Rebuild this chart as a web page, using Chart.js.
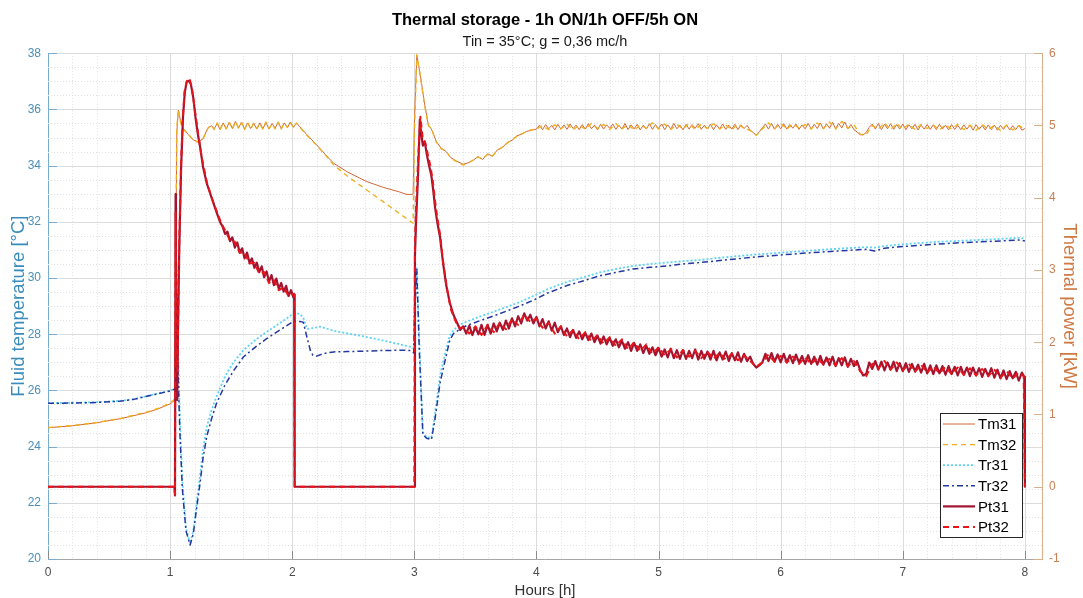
<!DOCTYPE html>
<html><head><meta charset="utf-8">
<script src="https://cdn.jsdelivr.net/npm/chart.js@4.4.1/dist/chart.umd.min.js"></script>
<style>html,body{margin:0;padding:0;background:#fff;}canvas{display:block;}</style>
</head><body>
<canvas id="c" width="1083" height="598"></canvas>
<script>
// ---------- DATA (hours / values) ----------
const xTicks = [0,1,2,3,4,5,6,7,8];
const yTicks = [20,22,24,26,28,30,32,34,36,38];
const y1Ticks = [-1,0,1,2,3,4,5,6];

const tmHeadHours = [0,0.2,0.4,0.6,0.8,0.9,1,1.04,1.046,1.055,1.068,1.085,1.108,1.15,1.19,1.23,1.27,1.31,1.34,
1.36,1.385,1.41,1.435,1.46,1.485,1.51,1.535,1.56,1.585,1.61,1.635,1.66,1.685,1.71,1.735,1.76,1.785,1.81,1.835,1.86,1.885,1.91,1.935,1.96,1.985,2.01,2.035,2.06,
2.12,2.2,2.27,2.34,2.45,2.61,2.75,2.88,2.94,2.99,3,3.02,3.05,3.08,3.115,3.14,3.18,3.22,3.26,3.3,3.35,3.4,3.44,3.48,3.52,3.56,3.6,3.64,3.68,3.72,3.76,3.8,3.84,3.88,3.92,3.96];

const tm31TailHours = [4,4.025,4.05,4.075,4.1,4.125,4.15,4.175,4.2,4.225,
4.25,4.275,4.3,4.325,4.35,4.375,4.4,4.425,4.45,4.475,
4.5,4.525,4.55,4.575,4.6,4.625,4.65,4.675,4.7,4.725,
4.75,4.775,4.8,4.825,4.85,4.875,4.9,4.925,4.95,4.975,
5,5.025,5.05,5.075,5.1,5.125,5.15,5.175,5.2,5.225,
5.25,5.275,5.3,5.325,5.35,5.375,5.4,5.425,5.45,5.475,
5.5,5.525,5.55,5.575,5.6,5.625,5.65,5.675,5.7,5.725,
5.75,5.775,5.8,5.825,5.85,5.875,5.9,5.925,5.95,5.975,
6,6.025,6.05,6.075,6.1,6.125,6.15,6.175,6.2,6.225,
6.25,6.275,6.3,6.325,6.35,6.375,6.4,6.425,6.45,6.475,
6.5,6.525,6.55,6.575,6.6,6.625,6.65,6.675,6.7,6.725,
6.75,6.775,6.8,6.825,6.85,6.875,6.9,6.925,6.95,6.975,
7,7.025,7.05,7.075,7.1,7.125,7.15,7.175,7.2,7.225,
7.25,7.275,7.3,7.325,7.35,7.375,7.4,7.425,7.45,7.475,
7.5,7.525,7.55,7.575,7.6,7.625,7.65,7.675,7.7,7.725,
7.75,7.775,7.8,7.825,7.85,7.875,7.9,7.925,7.95,7.975,8];

const tm32TailHours = [4,4.05,4.1,4.15,4.2,4.25,4.3,4.35,4.4,4.45,4.5,4.55,4.6,4.65,4.7,4.75,4.8,4.85,4.9,4.95,
5,5.05,5.1,5.15,5.2,5.25,5.3,5.35,5.4,5.45,5.5,5.55,5.6,5.65,5.7,5.75,5.8,5.85,5.9,5.95,
6,6.05,6.1,6.15,6.2,6.25,6.3,6.35,6.4,6.45,6.5,6.55,6.6,6.65,6.7,6.75,6.8,6.85,6.9,6.95,
7,7.05,7.1,7.15,7.2,7.25,7.3,7.35,7.4,7.45,7.5,7.55,7.6,7.65,7.7,7.75,7.8,7.85,7.9,7.95,8];

const tm31Temp = [24.67,24.74,24.85,25.0,25.2,25.34,25.52,25.66,30.5,35.2,35.97,35.6,35.32,35.1,34.91,34.85,34.95,35.35,35.42,
35.30,35.50,35.28,35.52,35.30,35.55,35.32,35.57,35.33,35.55,
35.30,35.52,35.32,35.50,35.30,35.52,35.32,35.53,35.30,35.50,
35.33,35.54,35.32,35.52,35.35,35.55,35.36,35.50,35.40,
35.1,34.74,34.4,34.08,33.78,33.43,33.22,33.06,32.97,32.98,
35.5,37.93,37.2,36.3,35.44,35.3,34.85,34.62,34.5,34.28,
34.15,34.05,34.1,34.18,34.32,34.22,34.42,34.33,34.56,34.64,
34.82,34.9,35.06,35.12,35.22,35.26,
35.30,35.44,35.28,35.46,35.31,35.43,35.27,35.47,35.30,35.45,
35.29,35.48,35.32,35.44,35.28,35.46,35.30,35.49,35.31,35.44,
35.27,35.47,35.30,35.45,35.33,35.48,35.29,35.44,35.30,35.50,
35.28,35.45,35.31,35.47,35.27,35.44,35.30,35.49,35.29,35.46,
35.32,35.48,35.28,35.45,35.30,35.50,35.31,35.44,35.27,35.47,
35.30,35.46,35.33,35.49,35.29,35.44,35.30,35.47,35.28,35.45,
35.31,35.48,35.29,35.44,35.30,35.47,35.28,35.45,35.32,35.43,
35.26,35.18,35.08,35.20,35.35,35.48,35.30,35.50,35.29,35.47,
35.31,35.49,35.30,35.46,35.33,35.48,35.29,35.45,35.31,35.50,
35.30,35.47,35.32,35.52,35.30,35.49,35.33,35.54,35.31,35.50,
35.34,35.55,35.31,35.46,35.28,35.20,35.10,35.09,35.18,35.36,
35.48,35.30,35.50,35.28,35.47,35.31,35.49,35.29,35.46,35.30,
35.48,35.28,35.45,35.31,35.47,35.27,35.44,35.30,35.46,35.29,
35.45,35.28,35.47,35.30,35.44,35.27,35.46,35.29,35.43,35.28,
35.45,35.30,35.44,35.26,35.46,35.29,35.43,35.27,35.45,35.28,
35.44,35.26,35.43,35.29,35.45,35.27,35.42,35.28,35.44,35.26,
35.32];

const tm32Temp = [24.68,24.75,24.86,25.01,25.22,25.36,25.55,25.70,31.0,35.4,36.0,35.55,35.28,35.12,34.9,34.83,34.97,35.33,35.44,
35.28,35.52,35.30,35.50,35.31,35.53,35.30,35.56,35.35,35.53,
35.28,35.54,35.30,35.51,35.32,35.50,35.30,35.55,35.32,35.48,
35.31,35.55,35.30,35.50,35.36,35.53,35.35,35.52,35.38,
35.08,34.72,34.38,34.02,33.63,33.13,32.7,32.29,32.1,31.95,
35.0,37.95,37.15,36.25,35.42,35.32,34.83,34.6,34.52,34.26,
34.13,34.02,34.08,34.2,34.3,34.25,34.4,34.35,34.54,34.66,
34.8,34.92,35.04,35.14,35.2,35.28,
35.30,35.42,35.28,35.45,35.30,35.48,35.27,35.44,35.30,35.50,
35.32,35.46,35.28,35.50,35.30,35.47,35.26,35.45,35.33,35.52,
35.30,35.48,35.29,35.46,35.31,35.50,35.28,35.47,35.32,35.49,
35.30,35.45,35.27,35.48,35.33,35.25,35.08,35.30,35.52,35.32,
35.50,35.30,35.48,35.34,35.46,35.30,35.52,35.31,35.55,35.30,
35.57,35.33,35.45,35.12,35.10,35.42,35.30,35.52,35.28,35.50,
35.30,35.48,35.28,35.46,35.32,35.44,35.27,35.45,35.30,35.47,
35.28,35.44,35.26,35.46,35.29,35.43,35.25,35.44,35.27,35.42,
35.30];

const trHours = [0,0.2,0.4,0.6,0.7,0.8,0.9,1,1.04,1.046,
1.05,1.06,1.08,1.1,1.13,1.164,1.19,1.22,1.246,1.27,
1.3,1.34,1.38,1.45,1.52,1.6,1.7,1.79,1.9,2.01,
2.06,2.09,2.12,2.15,2.17,2.2,2.23,2.28,2.34,2.45,
2.61,2.75,2.9,2.97,2.995,3,3.02,3.04,3.07,3.1,
3.14,3.17,3.21,3.24,3.29,3.32,3.38,3.43,3.55,3.7,
3.85,3.97,4.1,4.25,4.4,4.52,4.65,4.79,4.93,5.07,
5.2,5.34,5.5,5.75,6,6.25,6.5,6.7,6.77,6.85,
7,7.25,7.5,7.75,7.95,8];

const tr31Temp = [25.55,25.56,25.58,25.63,25.69,25.79,25.89,25.99,26.06,29.0,
30.8,28.5,25.0,22.8,21.1,20.55,21.0,22.1,23.0,23.9,
24.7,25.3,25.78,26.5,27.0,27.43,27.8,28.08,28.4,28.73,
28.73,28.6,28.19,28.2,28.22,28.24,28.27,28.2,28.12,28.03,
27.9,27.77,27.62,27.55,27.5,29.0,30.4,27.8,24.5,24.35,
24.3,25.2,26.5,27.1,27.95,28.15,28.35,28.45,28.65,28.88,
29.12,29.35,29.62,29.86,30.04,30.2,30.32,30.43,30.5,30.55,
30.6,30.64,30.72,30.82,30.9,30.98,31.05,31.1,31.08,31.14,
31.2,31.28,31.33,31.38,31.43,31.4];

const tr32Temp = [25.54,25.55,25.57,25.62,25.68,25.78,25.88,25.98,26.05,28.0,
30.7,27.4,24.5,22.5,21.0,20.5,20.9,21.9,22.72,23.6,
24.36,25.0,25.54,26.2,26.7,27.19,27.55,27.84,28.15,28.46,
28.45,28.43,27.9,27.4,27.25,27.22,27.27,27.33,27.37,27.38,
27.4,27.42,27.43,27.42,27.33,28.5,30.3,27.5,24.42,24.3,
24.25,25.0,26.25,26.84,27.78,28.02,28.2,28.31,28.5,28.73,
28.98,29.2,29.48,29.73,29.92,30.08,30.2,30.32,30.38,30.43,
30.5,30.55,30.62,30.73,30.82,30.9,30.97,31.02,30.96,31.06,
31.12,31.2,31.26,31.31,31.35,31.32];

const pt31Hours = [0,1.035,1.04,1.045,1.048,1.052,1.058,1.065,1.075,1.09,1.105,1.12,1.135,1.155,1.17,1.19,1.21,1.23,1.246,1.27,1.3,1.33,1.35,1.38,1.41,
1.43,1.45,1.47,1.49,1.51,1.53,1.55,1.57,1.59,1.61,1.63,1.65,1.67,1.69,1.71,1.73,1.75,1.77,1.79,1.81,1.83,1.85,1.87,1.89,1.91,1.93,1.95,1.97,1.99,2.01,
2.016,2.02,2.99,3,3.005,3.015,3.03,3.045,3.055,3.07,3.085,3.1,3.12,3.14,3.155,3.17,3.19,3.21,3.235,3.26,3.29,3.32,3.35,3.375,
3.4,3.425,3.45,3.475,3.5,3.525,3.55,3.575,
3.6,3.625,3.65,3.675,3.7,3.725,3.75,3.775,
3.8,3.825,3.85,3.875,3.9,3.925,3.95,3.975,
4,4.025,4.05,4.075,4.1,4.125,4.15,4.175,
4.2,4.225,4.25,4.275,4.3,4.325,4.35,4.375,
4.4,4.425,4.45,4.475,4.5,4.525,4.55,4.575,
4.6,4.625,4.65,4.675,4.7,4.725,4.75,4.775,
4.8,4.825,4.85,4.875,4.9,4.925,4.95,4.975,
5,5.025,5.05,5.075,5.1,5.125,5.15,5.175,
5.2,5.225,5.25,5.275,5.3,5.325,5.35,5.375,
5.4,5.425,5.45,5.475,5.5,5.525,5.55,5.575,
5.6,5.625,5.65,5.675,5.7,5.725,5.75,5.775,
5.8,5.825,5.85,5.875,5.9,5.925,5.95,5.975,
6,6.025,6.05,6.075,6.1,6.125,6.15,6.175,
6.2,6.225,6.25,6.275,6.3,6.325,6.35,6.375,
6.4,6.425,6.45,6.475,6.5,6.525,6.55,6.575,
6.6,6.625,6.65,6.675,6.7,6.725,6.75,6.775,
6.8,6.825,6.85,6.875,6.9,6.925,6.95,6.975,
7,7.025,7.05,7.075,7.1,7.125,7.15,7.175,
7.2,7.225,7.25,7.275,7.3,7.325,7.35,7.375,
7.4,7.425,7.45,7.475,7.5,7.525,7.55,7.575,
7.6,7.625,7.65,7.675,7.7,7.725,7.75,7.775,
7.8,7.825,7.85,7.875,7.9,7.925,7.95,7.975,
7.995,8];

const pt31Power = [0,0,-0.12,4.05,1.5,2.6,1.2,2.2,3.3,4.4,5.1,5.45,5.6,5.62,5.57,5.38,5.08,4.85,4.7,4.42,4.2,4.05,3.95,3.8,3.66,
3.60,3.50,3.53,3.40,3.45,3.31,3.38,3.24,3.30,3.16,3.24,3.10,3.16,3.03,3.10,2.97,3.05,2.90,2.98,2.84,2.93,2.79,2.88,2.74,2.82,2.70,2.78,2.64,2.72,2.62,
2.66,0,0,0,3.2,3.7,4.3,5.08,4.9,4.72,4.78,4.62,4.45,4.3,4.1,3.86,3.64,3.46,3.1,2.8,2.55,2.38,2.27,2.17,
2.22,2.12,2.23,2.10,2.21,2.11,2.24,2.10,
2.24,2.12,2.26,2.15,2.27,2.17,2.30,2.19,
2.33,2.22,2.36,2.26,2.40,2.30,2.38,2.26,
2.35,2.22,2.32,2.19,2.29,2.16,2.27,2.14,
2.22,2.10,2.19,2.07,2.17,2.06,2.15,2.04,
2.13,2.03,2.12,2.00,2.09,1.98,2.08,1.97,
2.06,1.95,2.04,1.93,2.02,1.91,2.00,1.88,
1.99,1.88,1.97,1.85,1.95,1.84,1.93,1.82,
1.92,1.80,1.90,1.79,1.91,1.78,1.89,1.77,
1.89,1.77,1.88,1.78,1.90,1.76,1.88,1.77,
1.87,1.76,1.88,1.75,1.86,1.76,1.87,1.74,
1.85,1.75,1.86,1.73,1.84,1.74,1.80,1.70,
1.65,1.68,1.72,1.84,1.74,1.85,1.73,1.83,
1.72,1.84,1.72,1.82,1.71,1.83,1.72,1.81,
1.70,1.82,1.70,1.80,1.69,1.81,1.69,1.79,
1.68,1.80,1.67,1.78,1.68,1.79,1.66,1.77,
1.67,1.74,1.62,1.54,1.56,1.72,1.63,1.74,
1.62,1.73,1.61,1.72,1.62,1.73,1.60,1.71,
1.60,1.71,1.59,1.70,1.60,1.69,1.58,1.70,
1.57,1.68,1.56,1.68,1.57,1.67,1.55,1.67,
1.56,1.66,1.54,1.66,1.55,1.65,1.53,1.65,
1.54,1.64,1.52,1.63,1.53,1.64,1.51,1.62,
1.50,1.61,1.49,1.60,1.50,1.59,1.47,1.58,
1.52,0];

const pt32Hours = [0,1.035,1.04,1.045,1.05,1.06,1.075,1.09,1.105,1.12,
1.14,1.16,1.18,1.2,1.23,1.26,1.3,1.34,1.38,1.42,
1.45,1.49,1.53,1.57,1.61,1.65,1.69,1.73,1.77,1.81,1.85,1.89,1.93,1.97,2.01,
2.016,2.02,2.99,3,3.005,3.015,3.03,3.05,3.07,3.09,
3.11,3.13,3.15,3.17,3.19,3.21,3.24,3.27,3.3,3.34,3.37,
3.4,3.45,3.5,3.55,3.6,3.65,3.7,3.75,3.8,3.85,
3.9,3.95,4,4.05,4.1,4.15,4.2,4.25,4.3,4.35,
4.4,4.45,4.5,4.55,4.6,4.65,4.7,4.75,4.8,4.85,
4.9,4.95,5,5.05,5.1,5.15,5.2,5.25,5.3,5.35,
5.4,5.45,5.5,5.55,5.6,5.65,5.7,5.75,5.8,5.85,
5.9,5.95,6,6.05,6.1,6.15,6.2,6.25,6.3,6.35,
6.4,6.45,6.5,6.55,6.6,6.65,6.7,6.75,6.8,6.85,
6.9,6.95,7,7.05,7.1,7.15,7.2,7.25,7.3,7.35,
7.4,7.45,7.5,7.55,7.6,7.65,7.7,7.75,7.8,7.85,
7.9,7.95,7.99,8];

const pt32Power = [0,0,-0.10,3.8,1.8,1.6,3.4,4.5,5.15,5.5,
5.63,5.65,5.5,5.25,4.88,4.55,4.22,4.0,3.82,3.64,
3.55,3.41,3.39,3.24,3.24,3.09,3.10,2.95,2.97,2.82,2.86,2.72,2.76,2.64,2.67,
2.66,0,0,0,3.4,3.9,4.5,5.12,4.8,4.76,
4.6,4.45,4.25,3.95,3.7,3.5,3.05,2.72,2.45,2.28,2.2,
2.20,2.12,2.22,2.10,2.24,2.14,2.27,2.18,2.32,2.24,
2.38,2.28,2.33,2.20,2.27,2.12,2.22,2.08,2.17,2.04,
2.14,2.01,2.10,1.98,2.07,1.95,2.04,1.90,2.00,1.88,
1.97,1.84,1.93,1.82,1.90,1.79,1.89,1.80,1.88,1.78,
1.87,1.77,1.85,1.76,1.84,1.75,1.82,1.74,1.66,1.72,
1.83,1.73,1.81,1.72,1.80,1.70,1.79,1.70,1.78,1.69,
1.77,1.68,1.78,1.67,1.74,1.60,1.53,1.70,1.64,1.74,
1.62,1.72,1.61,1.70,1.59,1.69,1.58,1.67,1.57,1.66,
1.56,1.65,1.55,1.64,1.54,1.63,1.53,1.62,1.51,1.60,
1.50,1.58,1.53,0];

const tm31Hours = tmHeadHours.concat(tm31TailHours);
const tm32Hours = tmHeadHours.concat(tm32TailHours);

// ---------- STYLE ----------
const FAMILY = "'Liberation Sans', Arial, Helvetica, sans-serif";
const LEFT_COL = '#4a8fba', LEFT_AXIS = '#78add0', LEFT_TITLE = '#3a8cbc';
const RIGHT_COL = '#c98156', RIGHT_AXIS = '#d9b08c', RIGHT_TITLE = '#cf7a44';
const X_COL = '#4d4d4d', X_AXIS = '#a6a6a6';

function pts(hours, vals) { return hours.map((h, i) => ({x: h, y: vals[i]})); }

const gridPlugin = {
  id: 'matlabGrid',
  beforeDatasetsDraw(chart) {
    const {ctx, chartArea: a, scales} = chart;
    const x = scales.x, y = scales.y;
    ctx.save();
    ctx.lineWidth = 1;
    ctx.strokeStyle = '#e0e0e0';
    ctx.setLineDash([1, 2]);
    ctx.beginPath();
    for (let k = 1; k < 41; k++) {
      if (k % 5 === 0) continue;
      const px = Math.round(x.getPixelForValue(k * 0.2)) + 0.5;
      if (px >= a.right) break;
      ctx.moveTo(px, a.top); ctx.lineTo(px, a.bottom);
    }
    for (let k = 1; k < 36; k++) {
      if (k % 4 === 0) continue;
      const py = Math.round(y.getPixelForValue(20 + k * 0.5)) + 0.5;
      ctx.moveTo(a.left, py); ctx.lineTo(a.right, py);
    }
    ctx.stroke();
    ctx.setLineDash([]);
    ctx.strokeStyle = '#dcdcdc';
    ctx.beginPath();
    xTicks.forEach(v => { if (v === 0) return; const px = Math.round(x.getPixelForValue(v)) + 0.5; ctx.moveTo(px, a.top); ctx.lineTo(px, a.bottom); });
    yTicks.forEach(v => { if (v === 20) return; const py = Math.round(y.getPixelForValue(v)) + 0.5; ctx.moveTo(a.left, py); ctx.lineTo(a.right, py); });
    ctx.stroke();
    ctx.restore();
  }
};

const tickPlugin = {
  id: 'inwardTicks',
  afterDatasetsDraw(chart) {
    const {ctx, chartArea: a, scales} = chart;
    ctx.save();
    ctx.lineWidth = 1;
    ctx.strokeStyle = '#8c8c8c';
    ctx.beginPath();
    xTicks.forEach(v => { const px = Math.round(scales.x.getPixelForValue(v)) + 0.5; ctx.moveTo(px, a.bottom); ctx.lineTo(px, a.bottom - 8); });
    ctx.stroke();
    ctx.strokeStyle = LEFT_AXIS;
    ctx.beginPath();
    yTicks.forEach(v => { const py = Math.round(scales.y.getPixelForValue(v)) + 0.5; ctx.moveTo(a.left, py); ctx.lineTo(a.left + 9, py); });
    ctx.stroke();
    ctx.strokeStyle = RIGHT_AXIS;
    ctx.beginPath();
    y1Ticks.forEach(v => { const py = Math.round(scales.y1.getPixelForValue(v)) + 0.5; ctx.moveTo(a.right, py); ctx.lineTo(a.right - 8, py); });
    ctx.stroke();
    ctx.restore();
  }
};

const legendPlugin = {
  id: 'boxLegend',
  afterDraw(chart) {
    const {ctx, chartArea: a} = chart;
    const ds = chart.data.datasets;
    const w = 82, h = 124, rowH = 20.6;
    const x0 = Math.round(a.right - 20 - w), y0 = Math.round(a.bottom - 22 - h);
    ctx.save();
    ctx.fillStyle = '#ffffff';
    ctx.fillRect(x0, y0, w, h);
    ctx.strokeStyle = '#262626';
    ctx.lineWidth = 1;
    ctx.setLineDash([]);
    ctx.strokeRect(x0 + 0.5, y0 + 0.5, w, h);
    ds.forEach((d, i) => {
      const cy = y0 + 11 + i * rowH;
      ctx.strokeStyle = d.borderColor;
      ctx.lineWidth = d.borderWidth;
      ctx.setLineDash(d.borderDash || []);
      ctx.beginPath(); ctx.moveTo(x0 + 3, cy); ctx.lineTo(x0 + 35, cy); ctx.stroke();
      ctx.setLineDash([]);
      ctx.fillStyle = '#000';
      ctx.font = '15px ' + FAMILY;
      ctx.textBaseline = 'middle';
      ctx.textAlign = 'left';
      ctx.fillText(d.label, x0 + 38, cy + 1);
    });
    ctx.restore();
  }
};

Chart.defaults.font.family = FAMILY;

new Chart(document.getElementById('c'), {
  type: 'line',
  data: {
    datasets: [
      {label: 'Tm31', data: pts(tm31Hours, tm31Temp), yAxisID: 'y', borderColor: '#d2693a', borderWidth: 1, borderDash: [], order: 5},
      {label: 'Tm32', data: pts(tm32Hours, tm32Temp), yAxisID: 'y', borderColor: '#edb120', borderWidth: 1.4, borderDash: [5, 4], order: 4},
      {label: 'Tr31', data: pts(trHours, tr31Temp), yAxisID: 'y', borderColor: '#5ed4f4', borderWidth: 1.8, borderDash: [2, 2], order: 3},
      {label: 'Tr32', data: pts(trHours, tr32Temp), yAxisID: 'y', borderColor: '#2438a0', borderWidth: 1.5, borderDash: [6, 3, 2, 3], order: 2},
      {label: 'Pt31', data: pts(pt31Hours, pt31Power), yAxisID: 'y1', borderColor: '#a2142f', borderWidth: 2.2, borderDash: [], order: 1},
      {label: 'Pt32', data: pts(pt32Hours, pt32Power), yAxisID: 'y1', borderColor: '#e8161b', borderWidth: 2, borderDash: [6, 4], order: 0}
    ]
  },
  options: {
    responsive: false,
    animation: false,
    events: [],
    parsing: false,
    devicePixelRatio: 1,
    layout: {padding: 0},
    elements: {point: {radius: 0}, line: {tension: 0, fill: false, borderCapStyle: 'butt', borderJoinStyle: 'round'}},
    plugins: {
      legend: {display: false},
      tooltip: {enabled: false},
      title: {display: true, fullSize: false, text: 'Thermal storage - 1h ON/1h OFF/5h ON', color: '#000', font: {size: 16.5, weight: 'bold', family: FAMILY}, padding: {top: 11, bottom: 0}},
      subtitle: {display: true, fullSize: false, text: 'Tin = 35°C; g = 0,36 mc/h', color: '#1a1a1a', font: {size: 14.5, family: FAMILY}, padding: {top: 2, bottom: 3}}
    },
    scales: {
      x: {
        type: 'linear', position: 'bottom', min: 0, max: 8.14,
        afterBuildTicks: s => { s.ticks = xTicks.map(v => ({value: v})); },
        afterFit: s => { s.height = 39; },
        grid: {display: false, drawTicks: false},
        border: {display: true, color: X_AXIS, width: 1},
        ticks: {color: X_COL, font: {size: 12}, padding: 6, maxRotation: 0, autoSkip: false},
        title: {display: true, text: 'Hours [h]', color: '#333', font: {size: 15}, padding: {top: -2, bottom: -2}}
      },
      y: {
        type: 'linear', position: 'left', min: 20, max: 38,
        afterBuildTicks: s => { s.ticks = yTicks.map(v => ({value: v})); },
        afterFit: s => { s.width = 48; },
        grid: {display: false, drawTicks: false},
        border: {display: true, color: LEFT_AXIS, width: 1},
        ticks: {color: LEFT_COL, font: {size: 12}, padding: 7},
        title: {display: true, text: 'Fluid temperature [°C]', color: LEFT_TITLE, font: {size: 18.5}, padding: {top: 8, bottom: 0}}
      },
      y1: {
        type: 'linear', position: 'right', min: -1, max: 6,
        afterBuildTicks: s => { s.ticks = y1Ticks.map(v => ({value: v})); },
        afterFit: s => { s.width = 41; },
        grid: {display: false, drawTicks: false},
        border: {display: true, color: RIGHT_AXIS, width: 1},
        ticks: {color: RIGHT_COL, font: {size: 12}, padding: 7},
        title: {display: true, text: 'Thermal power [kW]', color: RIGHT_TITLE, font: {size: 18.5}, padding: {top: 3, bottom: 0}}
      }
    }
  },
  plugins: [gridPlugin, tickPlugin, legendPlugin]
});
</script>
</body></html>
